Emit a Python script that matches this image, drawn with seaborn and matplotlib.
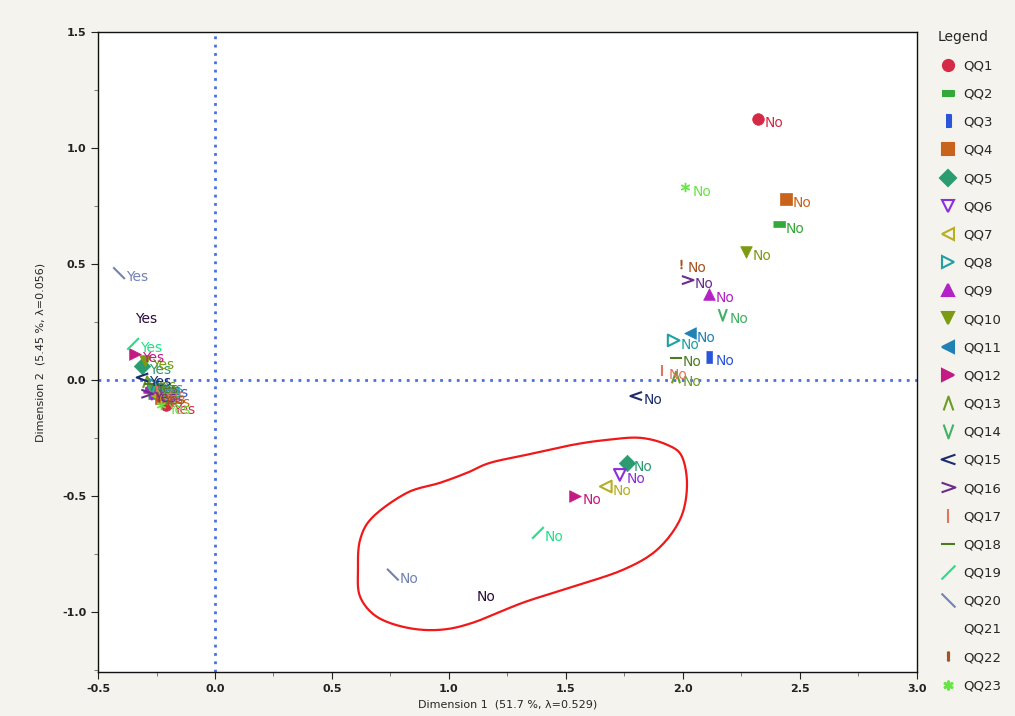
import numpy as np
import pandas as pd
import matplotlib
matplotlib.use("Agg")
import matplotlib.pyplot as plt
from matplotlib.path import Path
from matplotlib.lines import Line2D
from matplotlib.ticker import MultipleLocator
import seaborn as sns

# ---- data ----
questions = [f"QQ{i}" for i in range(1, 24)]

no_x = [2.32, 2.41, 2.11, 2.44, 1.76, 1.73, 1.67, 1.96, 2.11, 2.27, 2.03, 1.54,
        1.97, 2.17, 1.80, 2.02, 1.91, 1.97, 1.38, 0.76, 1.09, 1.99, 2.01]
no_y = [1.125, 0.67, 0.10, 0.78, -0.36, -0.41, -0.46, 0.17, 0.37, 0.55, 0.20, -0.50,
        0.01, 0.28, -0.07, 0.43, 0.04, 0.095, -0.66, -0.84, -0.92, 0.50, 0.83]

yes_x = [-0.21, -0.26, -0.24, -0.23, -0.31, -0.27, -0.28, -0.26, -0.28, -0.30, -0.27, -0.34,
         -0.29, -0.27, -0.31, -0.29, -0.25, -0.28, -0.35, -0.41, -0.37, -0.25, -0.23]
yes_y = [-0.11, -0.07, -0.04, -0.08, 0.06, -0.06, -0.05, -0.02, -0.03, 0.08, -0.03, 0.11,
         -0.01, -0.04, 0.01, -0.06, -0.05, -0.02, 0.155, 0.46, 0.28, -0.07, -0.11]

# hand-drawn highlight around the "No" group (outline vertices, data units)
blob_x = [0.611, 0.620, 0.675, 0.821, 0.962, 1.077, 1.175, 1.333, 1.530, 1.675, 1.816, 1.932,
          1.996, 2.017, 1.987, 1.889, 1.744, 1.530, 1.316, 1.103, 0.962, 0.821, 0.692, 0.620]
blob_y = [-0.819, -0.690, -0.591, -0.487, -0.444, -0.401, -0.358, -0.323, -0.280, -0.259, -0.250, -0.280,
          -0.332, -0.461, -0.603, -0.733, -0.819, -0.892, -0.961, -1.047, -1.078, -1.069, -1.022, -0.935]

# ---- styles ----
colors = ["#d42a45", "#35a83a", "#2b55d8", "#c8631c", "#2a9c70", "#8b2fdc", "#b8ae22", "#1fa0a2",
          "#b322c4", "#7c9a12", "#2082b4", "#c41a84", "#6c9c22", "#40b266", "#1c2c6c", "#6c2c8c",
          "#e27262", "#4c7c22", "#22e088", "#7282b4", "#2a0c3c", "#a4521e", "#66e444"]


def open_path(verts):
    return Path(verts, [Path.MOVETO] + [Path.LINETO] * (len(verts) - 1))


hbar = [(-1, -0.45), (1, -0.45), (1, 0.45), (-1, 0.45)]
vbar = [(-0.45, -1), (0.45, -1), (0.45, 1), (-0.45, 1)]
markers = ["o", hbar, vbar, "s", "D", "v", "<", ">", "^", "v", "<", ">",
           open_path([(-0.7, -1), (0, 1), (0.7, -1)]),
           open_path([(-0.7, 1), (0, -1), (0.7, 1)]),
           open_path([(1, 0.7), (-1, 0), (1, -0.7)]),
           open_path([(-1, 0.7), (1, 0), (-1, -0.7)]),
           open_path([(0, -1), (0, 1)]),
           open_path([(-1, 0), (1, 0)]),
           open_path([(-1, -1), (1, 1)]),
           open_path([(-1, 1), (1, -1)]),
           None, "$!$", "$*$"]
hollow = {"QQ6", "QQ7", "QQ8"}
line_art = {"QQ13", "QQ14", "QQ15", "QQ16", "QQ17", "QQ18", "QQ19", "QQ20"}


def smooth_closed(xs, ys, n=12):
    # periodic Catmull-Rom through the outline vertices
    p = np.column_stack([xs, ys])
    k = len(p)
    out = []
    t = np.linspace(0, 1, n, endpoint=False)[:, None]
    for i in range(k):
        p0, p1, p2, p3 = p[i - 1], p[i], p[(i + 1) % k], p[(i + 2) % k]
        seg = 0.5 * ((2 * p1) + (-p0 + p2) * t + (2 * p0 - 5 * p1 + 4 * p2 - p3) * t ** 2
                     + (-p0 + 3 * p1 - 3 * p2 + p3) * t ** 3)
        out.append(seg)
    out = np.vstack(out + [p[:1]])
    return out[:, 0], out[:, 1]


df = pd.DataFrame({
    "question": questions * 2,
    "answer": ["No"] * 23 + ["Yes"] * 23,
    "x": no_x + yes_x,
    "y": no_y + yes_y,
})

sns.set_style("ticks")
plt.rcParams["font.family"] = ["DejaVu Sans"]

fig = plt.figure(figsize=(10.15, 7.16), dpi=100, facecolor="#f4f3ed")
ax = fig.add_axes([98 / 1015, 1 - 672 / 716, (917 - 98) / 1015, (672 - 32) / 716])
ax.set_facecolor("white")

# reference lines
ax.axvline(0, color="#4a70e0", linestyle=(0, (1, 2)), linewidth=2, zorder=1)
ax.axhline(0, color="#4a70e0", linestyle=(0, (1, 2)), linewidth=2, zorder=1)

# red outline
sx, sy = smooth_closed(blob_x, blob_y)
ax.plot(sx, sy, color="#f01818", linewidth=1.6, zorder=2)

handles = []
for q, col, mk in zip(questions, colors, markers):
    sub = df[df["question"] == q]
    if mk is not None:
        kws = dict(marker=mk, s=70, zorder=3)
        if q in hollow or q in line_art:
            kws.update(facecolor="none", edgecolor=col, linewidth=1.5)
        else:
            kws.update(edgecolor=col, linewidth=0.5)
        if mk in ("$!$", "$*$"):
            kws["s"] = 40
        sns.scatterplot(data=sub, x="x", y="y", color=col, ax=ax, legend=False, **kws)
    for _, r in sub.iterrows():
        ax.annotate(r["answer"], (r["x"], r["y"]), xytext=(5, -3), textcoords="offset points",
                    ha="left", va="center", color=col, fontsize=10, zorder=4)

    if mk is None:
        h = Line2D([], [], marker="None", linestyle="none", label=q)
    else:
        fc = "none" if (q in hollow or q in line_art) else col
        if mk in ("$!$", "$*$"):
            ms = 6
        elif q in line_art:
            ms = 10
        else:
            ms = 8
        h = Line2D([], [], marker=mk, linestyle="none", markersize=ms,
                   markerfacecolor=fc, markeredgecolor=col, markeredgewidth=1.5, color=col, label=q)
    handles.append(h)

ax.set_xlim(-0.5, 3.0)
ax.set_ylim(-1.26, 1.5)
ax.xaxis.set_major_locator(MultipleLocator(0.5))
ax.yaxis.set_major_locator(MultipleLocator(0.5))
ax.xaxis.set_minor_locator(MultipleLocator(0.25))
ax.yaxis.set_minor_locator(MultipleLocator(0.25))
ax.xaxis.set_major_formatter(plt.FuncFormatter(lambda v, p: f"{v:.1f}"))
ax.yaxis.set_major_formatter(plt.FuncFormatter(lambda v, p: f"{v:.1f}"))
ax.tick_params(which="major", length=5, width=0.8, labelsize=8, colors="#222222")
ax.tick_params(which="minor", length=3, width=0.6, colors="#666666")
for lab in ax.get_xticklabels() + ax.get_yticklabels():
    lab.set_fontweight("bold")
for sp in ax.spines.values():
    sp.set_visible(True)
    sp.set_color("#111111")
    sp.set_linewidth(1.0)

ax.set_xlabel("Dimension 1  (51.7 %, λ=0.529)", fontsize=8, labelpad=4)
ax.set_ylabel("Dimension 2  (5.45 %, λ=0.056)", fontsize=8, labelpad=12)

leg = fig.legend(handles=handles, loc="upper left", bbox_to_anchor=(932 / 1015, 1 - 25 / 716),
                 frameon=False, fontsize=9.5, title="Legend", title_fontsize=10,
                 labelspacing=1.15, handletextpad=0.4, handlelength=1.6, borderaxespad=0)
leg._legend_box.align = "left"

fig.savefig("out.png", dpi=100, facecolor=fig.get_facecolor())
